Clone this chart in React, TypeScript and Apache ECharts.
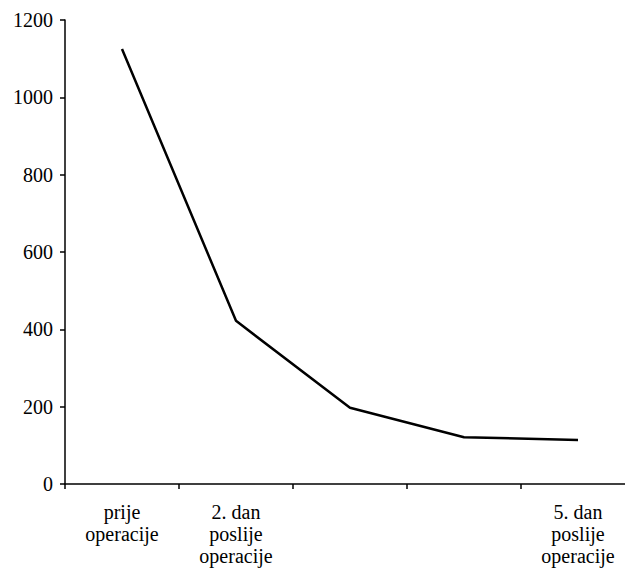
import React, { useEffect, useRef } from "react";
import * as echarts from "echarts";

const categories = [
  "prije\noperacije",
  "2. dan\nposlije\noperacije",
  "",
  "",
  "5. dan\nposlije\noperacije",
];
const values = [1125, 422, 197, 121, 114];
const yMin = 0;
const yMax = 1200;
const yInterval = 200;

export default function App() {
  const ref = useRef<HTMLDivElement>(null);
  useEffect(() => {
    if (!ref.current) return;
    const chart = echarts.init(ref.current, undefined, { renderer: "svg" });
    const font = "serif";
    chart.setOption({
      animation: false,
      backgroundColor: "#ffffff",
      textStyle: { fontFamily: font },
      grid: {
        left: 65,
        top: 20,
        height: 464,
        width: 570,
        containLabel: false,
        outerBoundsMode: "none",
      },
      xAxis: {
        type: "category",
        data: categories,
        boundaryGap: true,
        axisLine: { lineStyle: { color: "#000", width: 1.5 } },
        axisTick: { show: true, length: 5, interval: 0, lineStyle: { color: "#000", width: 1.5 } },
        axisLabel: {
          interval: 0,
          color: "#000",
          fontFamily: font,
          fontSize: 20,
          lineHeight: 22,
          margin: 17,
        },
        splitLine: { show: false },
      },
      yAxis: {
        type: "value",
        min: yMin,
        max: yMax,
        interval: yInterval,
        axisLine: { show: true, lineStyle: { color: "#000", width: 1.5 } },
        axisTick: { show: true, length: 5, lineStyle: { color: "#000", width: 1.5 } },
        axisLabel: {
          color: "#000",
          fontFamily: font,
          fontSize: 20,
          margin: 12,
          formatter: (v: number) => String(v),
        },
        splitLine: { show: false },
      },
      series: [
        {
          type: "line",
          data: values,
          symbol: "none",
          lineStyle: { color: "#000", width: 2.5 },
        },
      ],
    });
    return () => chart.dispose();
  }, []);
  return (
    <div
      ref={ref}
      style={{ position: "absolute", left: 0, top: 0, width: 625, height: 570 }}
    />
  );
}
